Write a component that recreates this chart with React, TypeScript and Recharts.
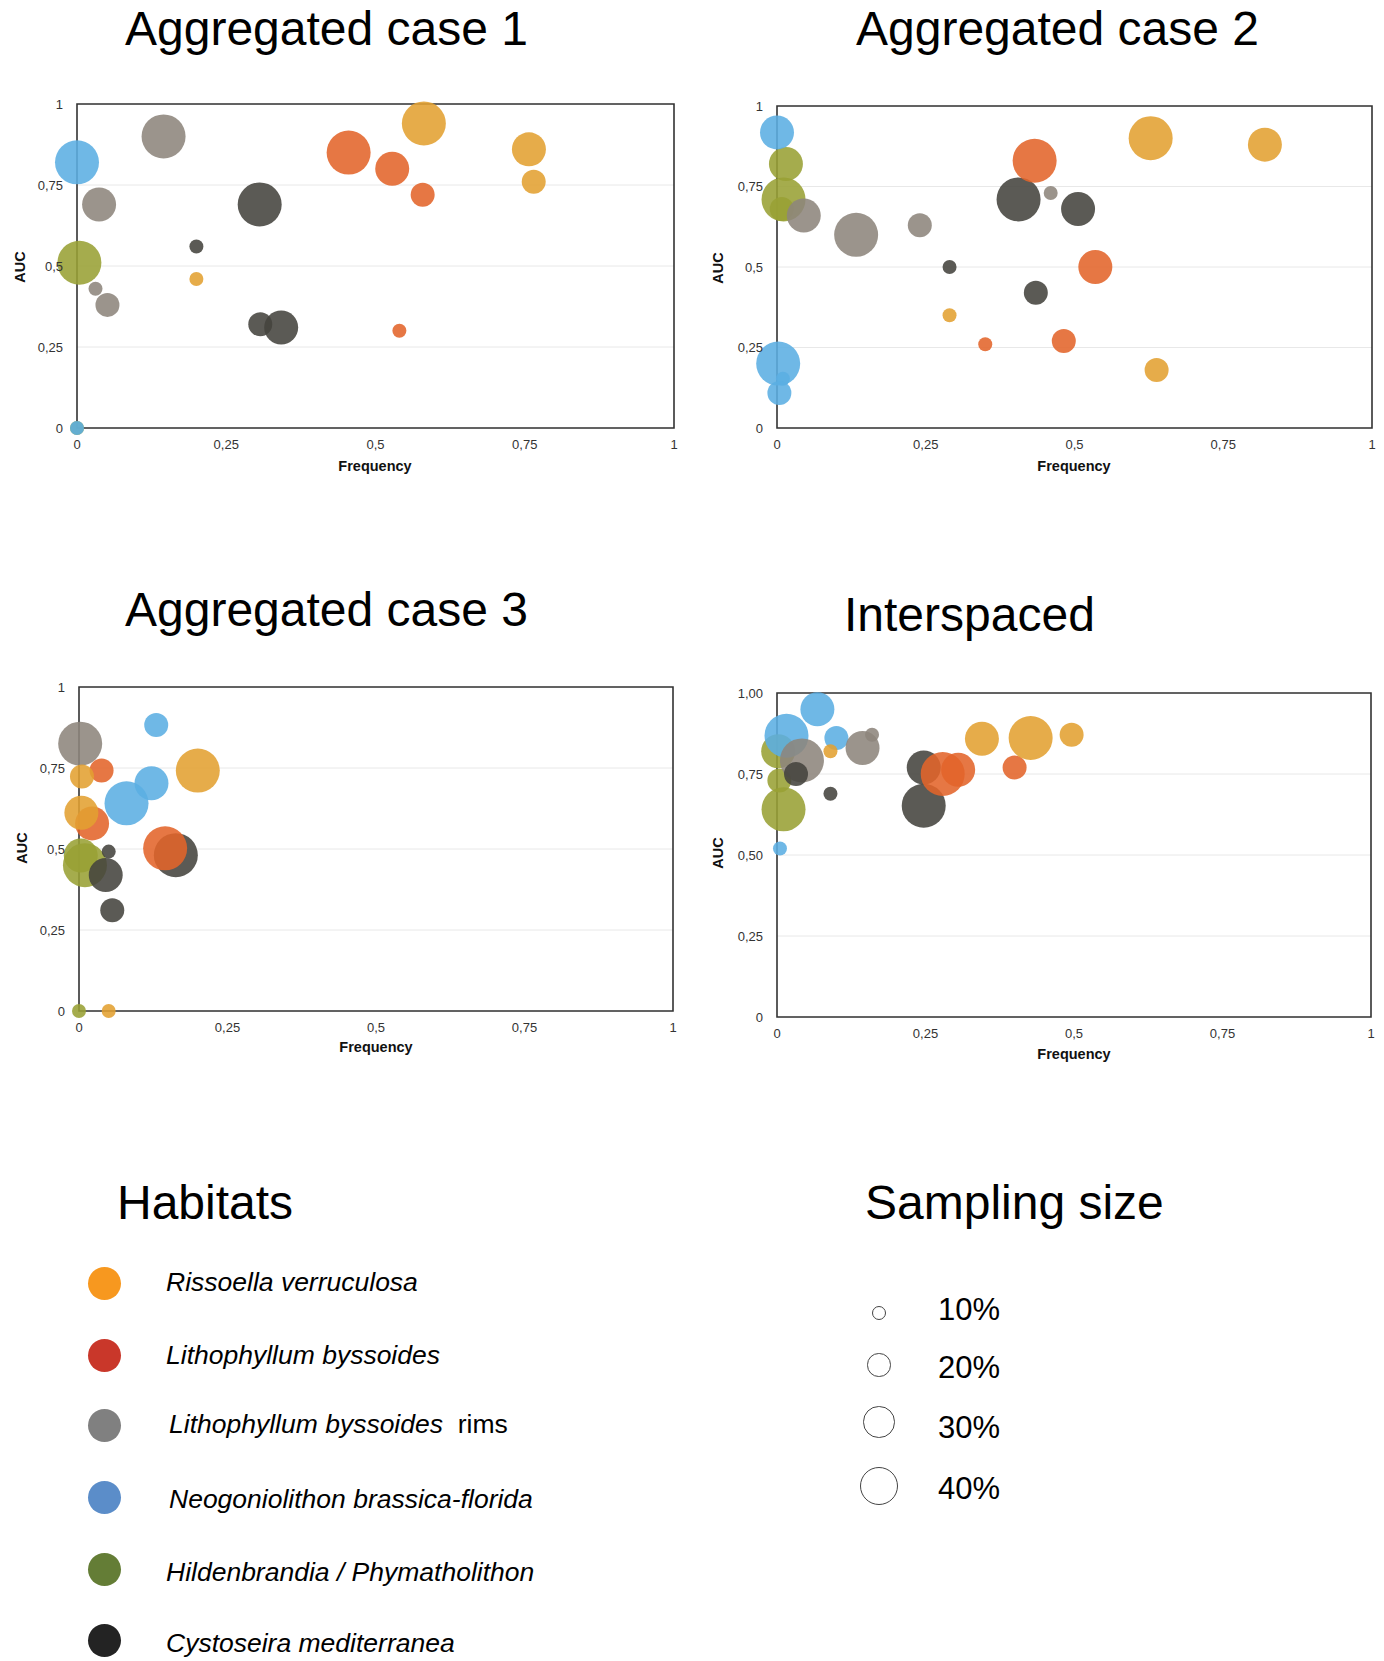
import React from 'react';
import { ScatterChart, Scatter, XAxis, YAxis, ZAxis, CartesianGrid, ReferenceArea } from 'recharts';

// habitat keys, names and colours
const habitatKeys = ['R', 'L', 'LR', 'N', 'H', 'C'];
const habitatNames = [
  'Rissoella verruculosa',
  'Lithophyllum byssoides',
  'Lithophyllum byssoides',
  'Neogoniolithon brassica-florida',
  'Hildenbrandia / Phymatholithon',
  'Cystoseira mediterranea',
];
const legendColors = ['#F7981F', '#C9372A', '#808080', '#5B8DC9', '#647D36', '#232323'];
const bubbleColors: Record<string, string> = {
  R: '#E2A131',
  L: '#E2642A',
  LR: '#8D857C',
  N: '#5BAEE3',
  H: '#99A034',
  C: '#44433E',
};
const drawOrder = ['H', 'N', 'LR', 'C', 'L', 'R'];

const sampleSizes = [10, 20, 30, 40];
const axisTicks = [0, 0.25, 0.5, 0.75, 1];

// f = frequency, auc = AUC, s = sampling size (%)
const case1Points = [
  { h: 'R', f: 0.2, auc: 0.46, s: 10 },
  { h: 'R', f: 0.581, auc: 0.94, s: 40 },
  { h: 'R', f: 0.757, auc: 0.86, s: 30 },
  { h: 'R', f: 0.765, auc: 0.76, s: 20 },
  { h: 'L', f: 0.54, auc: 0.3, s: 10 },
  { h: 'L', f: 0.455, auc: 0.85, s: 40 },
  { h: 'L', f: 0.528, auc: 0.8, s: 30 },
  { h: 'L', f: 0.579, auc: 0.72, s: 20 },
  { h: 'LR', f: 0.145, auc: 0.9, s: 40 },
  { h: 'LR', f: 0.037, auc: 0.69, s: 30 },
  { h: 'LR', f: 0.031, auc: 0.43, s: 10 },
  { h: 'LR', f: 0.051, auc: 0.38, s: 20 },
  { h: 'N', f: 0.0, auc: 0.82, s: 40 },
  { h: 'N', f: 0.0, auc: 0.0, s: 10 },
  { h: 'H', f: 0.004, auc: 0.51, s: 40 },
  { h: 'H', f: 0.0, auc: 0.0, s: 10 },
  { h: 'C', f: 0.2, auc: 0.56, s: 10 },
  { h: 'C', f: 0.306, auc: 0.69, s: 40 },
  { h: 'C', f: 0.307, auc: 0.32, s: 20 },
  { h: 'C', f: 0.342, auc: 0.31, s: 30 },
];

const case2Points = [
  { h: 'N', f: 0.0, auc: 0.918, s: 30 },
  { h: 'N', f: 0.002, auc: 0.2, s: 40 },
  { h: 'N', f: 0.01, auc: 0.153, s: 10 },
  { h: 'N', f: 0.004, auc: 0.109, s: 20 },
  { h: 'H', f: 0.015, auc: 0.82, s: 30 },
  { h: 'H', f: 0.011, auc: 0.71, s: 40 },
  { h: 'H', f: 0.008, auc: 0.68, s: 20 },
  { h: 'LR', f: 0.045, auc: 0.66, s: 30 },
  { h: 'LR', f: 0.133, auc: 0.6, s: 40 },
  { h: 'LR', f: 0.24, auc: 0.63, s: 20 },
  { h: 'LR', f: 0.46, auc: 0.73, s: 10 },
  { h: 'C', f: 0.406, auc: 0.71, s: 40 },
  { h: 'C', f: 0.506, auc: 0.68, s: 30 },
  { h: 'C', f: 0.29, auc: 0.5, s: 10 },
  { h: 'C', f: 0.435, auc: 0.42, s: 20 },
  { h: 'L', f: 0.433, auc: 0.83, s: 40 },
  { h: 'L', f: 0.535, auc: 0.5, s: 30 },
  { h: 'L', f: 0.35, auc: 0.26, s: 10 },
  { h: 'L', f: 0.482, auc: 0.27, s: 20 },
  { h: 'R', f: 0.628, auc: 0.9, s: 40 },
  { h: 'R', f: 0.82, auc: 0.88, s: 30 },
  { h: 'R', f: 0.29, auc: 0.35, s: 10 },
  { h: 'R', f: 0.638, auc: 0.18, s: 20 },
];

const case3Points = [
  { h: 'LR', f: 0.002, auc: 0.825, s: 40 },
  { h: 'N', f: 0.13, auc: 0.883, s: 20 },
  { h: 'N', f: 0.122, auc: 0.703, s: 30 },
  { h: 'N', f: 0.08, auc: 0.641, s: 40 },
  { h: 'L', f: 0.038, auc: 0.742, s: 20 },
  { h: 'L', f: 0.022, auc: 0.579, s: 30 },
  { h: 'L', f: 0.145, auc: 0.502, s: 40 },
  { h: 'R', f: 0.005, auc: 0.724, s: 20 },
  { h: 'R', f: 0.2, auc: 0.742, s: 40 },
  { h: 'R', f: 0.004, auc: 0.612, s: 30 },
  { h: 'R', f: 0.05, auc: 0.0, s: 10 },
  { h: 'C', f: 0.163, auc: 0.481, s: 40 },
  { h: 'C', f: 0.05, auc: 0.492, s: 10 },
  { h: 'C', f: 0.045, auc: 0.42, s: 30 },
  { h: 'C', f: 0.056, auc: 0.311, s: 20 },
  { h: 'H', f: 0.003, auc: 0.48, s: 30 },
  { h: 'H', f: 0.01, auc: 0.45, s: 40 },
  { h: 'H', f: 0.0, auc: 0.0, s: 10 },
];

const interPoints = [
  { h: 'N', f: 0.068, auc: 0.95, s: 30 },
  { h: 'N', f: 0.016, auc: 0.868, s: 40 },
  { h: 'N', f: 0.1, auc: 0.861, s: 20 },
  { h: 'N', f: 0.005, auc: 0.52, s: 10 },
  { h: 'H', f: 0.002, auc: 0.82, s: 30 },
  { h: 'H', f: 0.004, auc: 0.73, s: 20 },
  { h: 'H', f: 0.011, auc: 0.641, s: 40 },
  { h: 'LR', f: 0.144, auc: 0.83, s: 30 },
  { h: 'LR', f: 0.16, auc: 0.871, s: 10 },
  { h: 'LR', f: 0.042, auc: 0.792, s: 40 },
  { h: 'C', f: 0.032, auc: 0.75, s: 20 },
  { h: 'C', f: 0.09, auc: 0.689, s: 10 },
  { h: 'C', f: 0.247, auc: 0.77, s: 30 },
  { h: 'C', f: 0.247, auc: 0.652, s: 40 },
  { h: 'L', f: 0.279, auc: 0.75, s: 40 },
  { h: 'L', f: 0.305, auc: 0.763, s: 30 },
  { h: 'L', f: 0.4, auc: 0.77, s: 20 },
  { h: 'R', f: 0.09, auc: 0.82, s: 10 },
  { h: 'R', f: 0.345, auc: 0.859, s: 30 },
  { h: 'R', f: 0.427, auc: 0.861, s: 40 },
  { h: 'R', f: 0.496, auc: 0.871, s: 20 },
];

const FONT = "'Liberation Sans', Arial, Helvetica, sans-serif";

const fmtX = (v: number) => String(v).replace('.', ',');
const fmtY2 = (v: number) => (v === 0 ? '0' : v.toFixed(2).replace('.', ','));

// radius comes straight from the ZAxis scale
const bubble = (props: any) => {
  const r = typeof props.size === 'number' ? props.size : 8;
  return <circle cx={props.cx} cy={props.cy} r={r} fill={props.fill} fillOpacity={0.88} />;
};

type Box = { l: number; t: number; r: number; b: number };

function Panel({ data, box, yFmt }: { data: any[]; box: Box; yFmt: (v: number) => string }) {
  const padL = 60, padT = 15, padR = 12, padB = 30;
  const w = box.r - box.l + padL + padR;
  const h = box.b - box.t + padT + padB;
  const tick = { fill: '#333', fontSize: 13, fontFamily: FONT };
  return (
    <div style={{ position: 'absolute', left: box.l - padL, top: box.t - padT }}>
      <ScatterChart width={w} height={h} margin={{ top: padT, right: padR, left: padL - 40, bottom: 0 }}>
        <CartesianGrid vertical={false} stroke="#e8e8e8" />
        <XAxis
          type="number"
          dataKey="f"
          domain={[0, 1]}
          ticks={axisTicks}
          interval={0}
          height={padB}
          axisLine={false}
          tickLine={false}
          tickSize={6}
          tickMargin={6}
          tick={tick}
          tickFormatter={fmtX}
        />
        <YAxis
          type="number"
          dataKey="auc"
          domain={[0, 1]}
          ticks={axisTicks}
          interval={0}
          width={40}
          axisLine={false}
          tickLine={false}
          tickSize={6}
          tickMargin={8}
          tick={tick}
          tickFormatter={yFmt}
        />
        <ZAxis type="number" dataKey="s" domain={[10, 40]} range={[7, 22]} />
        <ReferenceArea x1={0} x2={1} y1={0} y2={1} fill="none" fillOpacity={0} stroke="#333" strokeWidth={1.6} />
        {drawOrder.map((k) => (
          <Scatter
            key={k}
            data={data.filter((p) => p.h === k)}
            fill={bubbleColors[k]}
            shape={bubble}
            isAnimationActive={false}
          />
        ))}
      </ScatterChart>
    </div>
  );
}

const abs = (left: number, top: number, extra: React.CSSProperties = {}): React.CSSProperties => ({
  position: 'absolute',
  left,
  top,
  whiteSpace: 'nowrap',
  fontFamily: FONT,
  color: '#000',
  ...extra,
});

function Title({ text, left, baseline }: { text: string; left: number; baseline: number }) {
  return <div style={abs(left, baseline - 40.6, { fontSize: 48, lineHeight: '48px' })}>{text}</div>;
}

function AxisTitles({ auc, freq }: { auc: [number, number]; freq: [number, number] }) {
  const s: React.CSSProperties = { fontSize: 14.5, fontWeight: 'bold', lineHeight: '15px', color: '#111' };
  return (
    <>
      <div style={abs(auc[0], auc[1], { ...s, transform: 'translate(-50%,-50%) rotate(-90deg)' })}>AUC</div>
      <div style={abs(freq[0], freq[1], { ...s, transform: 'translate(-50%,-50%)' })}>Frequency</div>
    </>
  );
}

const legendRowY = [1283, 1355, 1425, 1497, 1569, 1640];
const legendBaseline = [1291, 1364, 1433, 1508, 1581, 1652];
const legendTextX = [166, 166, 169, 169, 166, 166];
const sizeRowY = [1313, 1365, 1422, 1486];
const sizeRadius = [7.3, 11.7, 15.7, 19.2];
const sizeBaseline = [1320, 1378, 1438, 1499];

export default function App() {
  return (
    <div style={{ position: 'absolute', left: 0, top: 0, width: 1384, height: 1661, background: '#fff', overflow: 'hidden' }}>
      <Title text="Aggregated case 1" left={125} baseline={46} />
      <Title text="Aggregated case 2" left={856} baseline={46} />
      <Title text="Aggregated case 3" left={125} baseline={627} />
      <Title text="Interspaced" left={844} baseline={632} />

      <Panel data={case1Points} box={{ l: 77, t: 104, r: 674, b: 428 }} yFmt={fmtX} />
      <Panel data={case2Points} box={{ l: 777, t: 106, r: 1372, b: 428 }} yFmt={fmtX} />
      <Panel data={case3Points} box={{ l: 79, t: 687, r: 673, b: 1011 }} yFmt={fmtX} />
      <Panel data={interPoints} box={{ l: 777, t: 693, r: 1371, b: 1017 }} yFmt={fmtY2} />

      <AxisTitles auc={[20, 267]} freq={[375, 466]} />
      <AxisTitles auc={[718, 268]} freq={[1074, 466]} />
      <AxisTitles auc={[22, 848]} freq={[376, 1047]} />
      <AxisTitles auc={[718, 853]} freq={[1074, 1054]} />

      <Title text="Habitats" left={117} baseline={1220} />
      {habitatKeys.map((k, i) => (
        <React.Fragment key={k}>
          <div
            style={{
              position: 'absolute',
              left: 104 - 16.5,
              top: legendRowY[i] - 16.5,
              width: 33,
              height: 33,
              borderRadius: '50%',
              background: legendColors[i],
            }}
          />
          <div style={abs(legendTextX[i], legendBaseline[i] - 22.4, { fontSize: 26.5, lineHeight: '26.5px' })}>
            <i>{habitatNames[i]}</i>
            {k === 'LR' ? <span>&nbsp; rims</span> : null}
          </div>
        </React.Fragment>
      ))}

      <Title text="Sampling size" left={865} baseline={1220} />
      {sampleSizes.map((s, i) => (
        <React.Fragment key={s}>
          <div
            style={{
              position: 'absolute',
              left: 879 - sizeRadius[i],
              top: sizeRowY[i] - sizeRadius[i],
              width: sizeRadius[i] * 2,
              height: sizeRadius[i] * 2,
              boxSizing: 'border-box',
              borderRadius: '50%',
              border: '1px solid #444',
            }}
          />
          <div style={abs(938, sizeBaseline[i] - 26.2, { fontSize: 31, lineHeight: '31px' })}>{s}%</div>
        </React.Fragment>
      ))}
    </div>
  );
}
